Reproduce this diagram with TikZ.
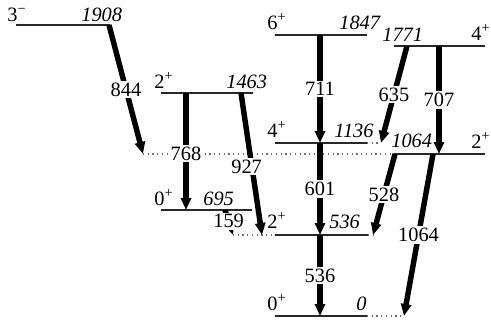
\documentclass[tikz,border=0pt]{standalone}
\usepackage{fontspec}
\setmainfont{Liberation Serif}
\usetikzlibrary{arrows.meta, positioning}
\definecolor{levelgray}{RGB}{40,40,40}
\definecolor{feedgray}{RGB}{110,110,110}
\tikzset{
  level/.style={draw=levelgray, line width=0.7pt},
  feeding/.style={draw=feedgray, dotted, line width=0.7pt},
  gamma/.style={
    draw=black, line width=3.1pt,
    -{Triangle[length=0.24cm,width=0.2cm]}
  },
  glabel/.style={
    fill=white, inner sep=1pt,
    font=\rmfamily\fontsize{11.6}{14}\selectfont
  },
  spinlab/.style={anchor=base west, inner sep=0pt,
    font=\rmfamily\fontsize{11.6}{14}\selectfont},
  elab/.style={anchor=base west, inner sep=0pt,
    font=\rmfamily\fontsize{11.6}{14}\selectfont\itshape}
}

\begin{document}
\begin{tikzpicture}[x=0.02cm, y=-0.02cm]

\useasboundingbox (0,0) rectangle (491,322);

% ═══════════════════════════════════════════════════════════════════
% LEVEL END POINTS
% ═══════════════════════════════════════════════════════════════════

\coordinate (l1908w) at (16,25);   \coordinate (l1908e) at (110,25);
\coordinate (l1463w) at (161,93);  \coordinate (l1463e) at (253,93);
\coordinate (l695w)  at (161,210); \coordinate (l695e)  at (252,210);
\coordinate (l1847w) at (275,35);  \coordinate (l1847e) at (367,35);
\coordinate (l1771w) at (394,46);  \coordinate (l1771e) at (485,46);
\coordinate (l1136w) at (275,143); \coordinate (l1136e) at (367,143);
\coordinate (l1064w) at (394,154); \coordinate (l1064e) at (485,154);
\coordinate (l536w)  at (275,235); \coordinate (l536e)  at (368,235);
\coordinate (l0w)    at (275,316); \coordinate (l0e)    at (367,316);

% ── dotted feeding ends ──────────────────────────────────────────
\coordinate (f1064)  at (143,154);
\coordinate (f1136)  at (381,143);
\coordinate (f536w)  at (233,235);
\coordinate (f536e)  at (373,235);
\coordinate (f0)     at (404,316);

% ═══════════════════════════════════════════════════════════════════
% LEVELS
% ═══════════════════════════════════════════════════════════════════

\draw[level] (l1908w) -- (l1908e);
\draw[level] (l1463w) -- (l1463e);
\draw[level] (l695w)  -- (l695e);
\draw[level] (l1847w) -- (l1847e);
\draw[level] (l1771w) -- (l1771e);
\draw[level] (l1136w) -- (l1136e);
\draw[level] (l1064w) -- (l1064e);
\draw[level] (l536w)  -- (l536e);
\draw[level] (l0w)    -- (l0e);

\draw[feeding] (f1064) -- (l1064w);
\draw[feeding] (l1136e) -- (f1136);
\draw[feeding] (f536w) -- (l536w);
\draw[feeding] (l536e) -- (f536e);
\draw[feeding] (l0e) -- (f0);

% ═══════════════════════════════════════════════════════════════════
% SPIN AND ENERGY LABELS
% ═══════════════════════════════════════════════════════════════════

\node[spinlab] (s1908) at (7,21)    {3\textsuperscript{−}};
\node[elab]    (e1908) at (81,21)   {1908};
\node[spinlab] (s1463) at (154,88)  {2\textsuperscript{+}};
\node[elab]    (e1463) at (226,88)  {1463};
\node[spinlab] (s695)  at (154,205) {0\textsuperscript{+}};
\node[elab]    (e695)  at (203,205) {695};
\node[spinlab] (s1847) at (267,29)  {6\textsuperscript{+}};
\node[elab]    (e1847) at (339,29)  {1847};
\node[elab]    (e1771) at (382,41)  {1771};
\node[spinlab] (s1771) at (471,40)  {4\textsuperscript{+}};
\node[spinlab] (s1136) at (267,137) {4\textsuperscript{+}};
\node[elab]    (e1136) at (334,137) {1136};
\node[elab]    (e1064) at (391,147) {1064};
\node[spinlab] (s1064) at (471,148) {2\textsuperscript{+}};
\node[spinlab] (s536)  at (267,228) {2\textsuperscript{+}};
\node[elab]    (e536)  at (329,228) {536};
\node[spinlab] (s0)    at (267,310) {0\textsuperscript{+}};
\node[elab]    (e0)    at (356,310) {0};

% ═══════════════════════════════════════════════════════════════════
% GAMMA TRANSITIONS
% ═══════════════════════════════════════════════════════════════════

\coordinate (g844a)  at (109,25);  \coordinate (g844b)  at (f1064);
\coordinate (g768a)  at (186,93);  \coordinate (g768b)  at (186,210);
\coordinate (g927a)  at (241,93);  \coordinate (g927b)  at (262,235);
\coordinate (g159a)  at (225,210); \coordinate (g159b)  at (233,235);
\coordinate (g711a)  at (320,35);  \coordinate (g711b)  at (320,143);
\coordinate (g601a)  at (320,143); \coordinate (g601b)  at (320,235);
\coordinate (g536a)  at (320,235); \coordinate (g536b)  at (320,316);
\coordinate (g635a)  at (407,46);  \coordinate (g635b)  at (f1136);
\coordinate (g707a)  at (439,46);  \coordinate (g707b)  at (439,154);
\coordinate (g528a)  at (395,154); \coordinate (g528b)  at (f536e);
\coordinate (g1064a) at (433,154); \coordinate (g1064b) at (f0);

\draw[gamma] (g844a)  -- node[glabel] {844}  (g844b);
\draw[gamma] (g768a)  -- node[glabel, pos=0.52] {768}  (g768b);
\draw[gamma] (g927a)  -- node[glabel, pos=0.52, xshift=-3pt] {927}  (g927b);
\draw[gamma] (g159a)  -- node[glabel, pos=0.45] {159}  (g159b);
\draw[gamma] (g711a)  -- node[glabel] {711}  (g711b);
\draw[gamma] (g601a)  -- node[glabel] {601}  (g601b);
\draw[gamma] (g536a)  -- node[glabel] {536}  (g536b);
\draw[gamma] (g635a)  -- node[glabel] {635}  (g635b);
\draw[gamma] (g707a)  -- node[glabel] {707}  (g707b);
\draw[gamma] (g528a)  -- node[glabel] {528}  (g528b);
\draw[gamma] (g1064a) -- node[glabel, pos=0.5] {1064} (g1064b);

\end{tikzpicture}
\end{document}
